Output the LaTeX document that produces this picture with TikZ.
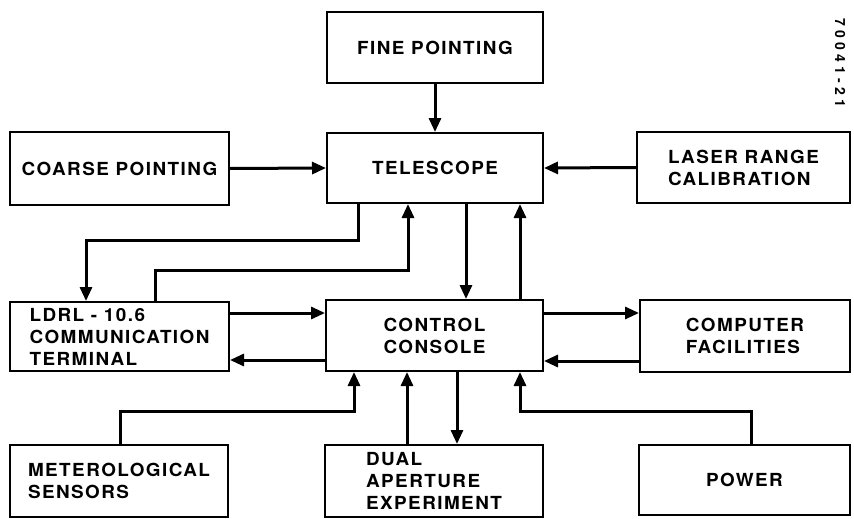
\documentclass[tikz,border=0pt]{standalone}
\usepackage{fontspec}
\newfontfamily\labfont{TeX Gyre Heros}[LetterSpace=8,FakeStretch=1.05]
\newfontfamily\numfont{TeX Gyre Heros}[LetterSpace=30]
\usetikzlibrary{arrows.meta}
\begin{document}
\begin{tikzpicture}[x=1pt,y=-1pt,
  box/.style={draw, line width=2pt, rectangle, inner sep=0pt, align=left,
    font=\labfont\bfseries\fontsize{18}{22}\selectfont},
  conn/.style={line width=3pt, -{Triangle[length=14pt,width=12pt]}}]
\useasboundingbox (0,0) rectangle (854,519);
% boxes
\node[box, minimum width=216pt, minimum height=71pt] (fine) at (435,47.5) {FINE POINTING};
\node[box, minimum width=216pt, minimum height=70pt] (tele) at (435,168) {TELESCOPE};
\node[box, minimum width=219pt, minimum height=73pt] (coarse) at (119.5,168.5) {COARSE POINTING};
\node[box, minimum width=213pt, minimum height=71pt] (laser) at (743.5,167.5) {LASER RANGE\\CALIBRATION};
\node[box, minimum width=219pt, minimum height=69pt] (ldrl) at (119.5,336.5) {LDRL - 10.6\\COMMUNICATION\\TERMINAL};
\node[box, minimum width=217pt, minimum height=71pt] (console) at (434.5,335.5) {CONTROL\\CONSOLE};
\node[box, minimum width=210pt, minimum height=72pt] (computer) at (745,336) {COMPUTER\\FACILITIES};
\node[box, minimum width=218pt, minimum height=72pt] (meteor) at (119,481) {METEROLOGICAL\\SENSORS};
\node[box, minimum width=218pt, minimum height=72pt] (dual) at (434,481) {DUAL\\APERTURE\\EXPERIMENT};
\node[box, minimum width=211pt, minimum height=70pt] (power) at (744.5,480) {POWER};
% rotated number
\node[rotate=-90, font=\numfont\bfseries\fontsize{14}{16}\selectfont] (num) at (840,63) {70041-21};
% connectors
\draw[conn] (fine.south) -- (tele.north);
\draw[conn] (coarse.east) -- (tele.west);
\draw[conn] (laser.west) -- (tele.east);
\draw[conn] ([xshift=-77pt]tele.south) -- ++(0,36) -| ([xshift=-33.5pt]ldrl.north);
\draw[conn] ([xshift=35.5pt]ldrl.north) -- ++(0,-31) -| ([xshift=-27pt]tele.south);
\draw[conn] ([xshift=31pt]tele.south) -- ([xshift=31pt]tele.south |- console.north);
\draw[conn] ([xshift=85pt]tele.south |- console.north) -- ([xshift=85pt]tele.south);
\draw[conn] ([yshift=23.5pt]ldrl.east) -- ([yshift=23.5pt]ldrl.east -| console.west);
\draw[conn] ([yshift=-24.5pt]console.west) -- ([yshift=-24.5pt]console.west -| ldrl.east);
\draw[conn] ([yshift=22.5pt]console.east) -- ([yshift=22.5pt]console.east -| computer.west);
\draw[conn] ([yshift=-25pt]computer.west) -- ([yshift=-25pt]computer.west -| console.east);
\draw[conn] ([xshift=1pt]meteor.north) -- ++(0,-33) -| ([xshift=-80.5pt]console.south);
\draw[conn] ([xshift=-27pt]dual.north) -- ([xshift=-27pt]dual.north |- console.south);
\draw[conn] ([xshift=22.5pt]console.south) -- ([xshift=22.5pt]console.south |- dual.north);
\draw[conn] ([xshift=6.5pt]power.north) -- ++(0,-33) -| ([xshift=85.5pt]console.south);
\end{tikzpicture}
\end{document}
